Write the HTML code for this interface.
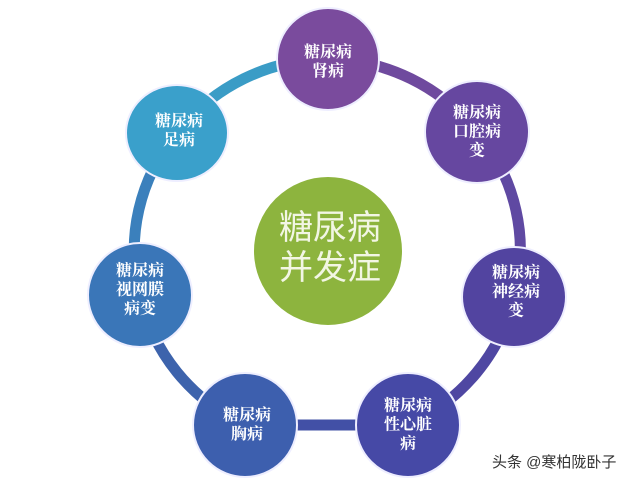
<!DOCTYPE html>
<html><head><meta charset="utf-8"><style>
html,body{margin:0;padding:0;background:#fff;}
body{width:640px;height:481px;overflow:hidden;position:relative;font-family:"Liberation Sans","Noto Sans CJK SC",sans-serif;}
.t{position:absolute;color:#fff;font-weight:bold;font-size:16px;line-height:19px;text-align:center;transform:translate(-50%,-50%);white-space:nowrap;font-family:"Liberation Serif","Noto Serif CJK SC",serif;}
</style></head><body>
<svg width="640" height="481" style="position:absolute;left:0;top:0">
<g fill="none" stroke-width="11">
<path d="M328 59 A192 190 0 0 1 477 132" stroke="#6f4a9e"/>
<path d="M477 132 A192 186 0 0 1 514 297" stroke="#5f49a2"/>
<path d="M514 297 A192 186 0 0 1 408 425" stroke="#4f47a2"/>
<path d="M408 425 L245 425" stroke="#4250a6"/>
<path d="M245 425 A192 186 0 0 1 140 295" stroke="#3d63ac"/>
<path d="M140 295 A192 186 0 0 1 177 133" stroke="#3b80bc"/>
<path d="M177 133 A192 190 0 0 1 328 59" stroke="#3a9cc6"/>
</g>
<g stroke="#eef" stroke-width="2">
<ellipse cx="328" cy="59" rx="51" ry="51" fill="#7a4b9d"/>
<ellipse cx="477" cy="132" rx="52" ry="51" fill="#6647a0"/>
<ellipse cx="514" cy="297" rx="52" ry="50" fill="#5244a0"/>
<ellipse cx="408" cy="425" rx="52" ry="52" fill="#4649a6"/>
<ellipse cx="245" cy="425" rx="52" ry="52" fill="#3d5fae"/>
<ellipse cx="140" cy="295" rx="52" ry="52" fill="#3a76b8"/>
<ellipse cx="177" cy="133" rx="51" ry="48" fill="#3aa0cb"/>
<circle cx="328" cy="251" r="75" fill="#8db43e" stroke="#fff"/>
</g>
</svg>
<div class="t" style="left:328px;top:62px">糖尿病<br>肾病</div>
<div class="t" style="left:477px;top:132px">糖尿病<br>口腔病<br>变</div>
<div class="t" style="left:516px;top:292px">糖尿病<br>神经病<br>变</div>
<div class="t" style="left:408px;top:425px">糖尿病<br>性心脏<br>病</div>
<div class="t" style="left:247px;top:425px">糖尿病<br>胸病</div>
<div class="t" style="left:140px;top:290px">糖尿病<br>视网膜<br>病变</div>
<div class="t" style="left:179px;top:131px">糖尿病<br>足病</div>
<div class="t" style="left:330px;top:248px;font-size:34px;line-height:40px;font-weight:normal;color:#f2f6e4;font-family:'Liberation Sans','Noto Sans CJK SC',sans-serif">糖尿病<br>并发症</div>
<div style="position:absolute;left:492px;top:451px;font-size:15px;color:#333;white-space:nowrap">头条 @寒柏陇卧子</div>
</body></html>
